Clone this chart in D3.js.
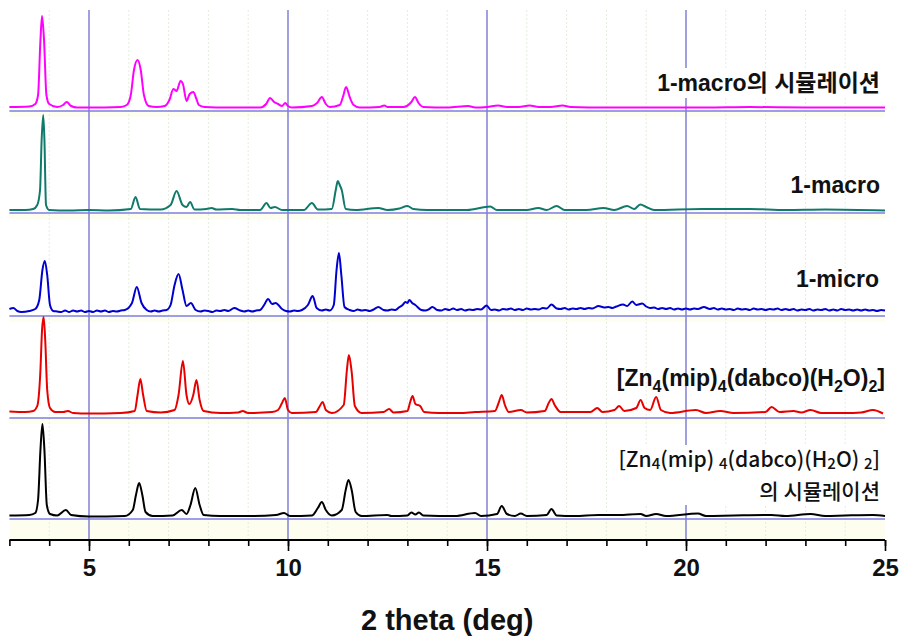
<!DOCTYPE html>
<html>
<head>
<meta charset="utf-8">
<script src="https://cdn.jsdelivr.net/npm/d3@7"></script>
<style>
  html, body { margin: 0; padding: 0; background: #fff; }
  svg { display: block; }
</style>
</head>
<body>
<svg id="chart" width="901" height="644"></svg>
<script>
// ---------------- DATA ----------------
const seriesNames = ["1-macro의 시뮬레이션", "1-macro", "1-micro", "[Zn4(mip)4(dabco)(H2O)2]", "[Zn4(mip)4(dabco)(H2O)2] 의 시뮬레이션"];
const seriesColors = ["#ff00ff", "#0f7a6a", "#0000d0", "#e80000", "#000000"];
// vertical stacking offsets (a.u.)
const seriesOffsets = [429, 327, 224, 122, 21];

const xDomain = [3, 25];
const majorTicks = [5, 10, 15, 20, 25];
const minorTicks = [3,4,5,6,7,8,9,10,11,12,13,14,15,16,17,18,19,20,21,22,23,24,25];
const xLabel = "2 theta (deg)";

// intensities (a.u.): [2theta, intensity]
const simMacro = [
 [3.0,4],[3.5,4.5],[3.65,7],[3.72,16],[3.78,71],[3.82,95],[3.87,71],[3.93,16],[4.0,7],[4.2,4],[4.35,6],[4.44,9],[4.55,5],[4.7,3.5],
 [5.0,3.5],[5.8,4],[5.95,6],[6.05,16],[6.13,41],[6.22,51],[6.3,41],[6.38,16],[6.5,5],[6.7,4],[6.9,5],[7.02,11],[7.12,22],[7.2,20],
 [7.3,30],[7.36,27],[7.45,10],[7.53,17],[7.62,19],[7.7,12],[7.76,6],[7.9,4],[8.5,3.5],[9.3,3.5],[9.45,7],[9.55,13],[9.65,9],[9.75,7],
 [9.85,5],[9.93,8],[10.0,5],[10.1,3.5],[10.6,5],[10.73,8],[10.85,14],[10.95,7],[11.05,4],[11.3,6],[11.38,14],[11.46,24],[11.55,14],
 [11.65,6],[11.8,3.5],[12.3,4],[12.42,5.5],[12.5,4],[12.9,4],[13.1,9],[13.19,14],[13.28,8],[13.4,4],[14.0,3.5],[14.53,5],[14.7,3.5],
 [15.0,4],[15.28,5.5],[15.5,4],[15.8,4],[16.07,5.5],[16.3,4],[16.6,4],[16.9,5.5],[17.1,4],[18.0,3.5],[19.0,3.5],[20.5,3.5],[21.6,4],
 [23.0,3.5],[25.0,3.5]
];
const macro = [
 [3.0,3],[3.4,3],[3.6,4],[3.7,8],[3.77,23],[3.81,73],[3.85,98],[3.88,73],[3.92,8],[4.0,3],[4.5,2.5],[5.0,3],[5.5,2.5],[6.05,4],[6.17,16],
 [6.28,4],[6.8,3.5],[7.05,8],[7.2,22],[7.35,8],[7.45,6],[7.54,11],[7.65,3.5],[7.95,4],[8.08,5],[8.2,3.5],[8.6,4],[8.8,3],[9.3,3],
 [9.46,10],[9.56,5],[9.67,6],[9.85,3],[10.4,3],[10.6,10],[10.75,3.5],[11.1,4],[11.2,23],[11.25,32],[11.3,28],[11.35,23],[11.45,4],
 [11.7,3],[12.27,5],[12.5,3],[12.8,4.5],[13.0,7],[13.15,4],[13.5,3],[14.5,3],[15.08,6.5],[15.25,3],[16.0,3],[16.29,5],[16.5,3],
 [16.75,7],[16.95,3],[17.5,3],[17.93,5],[18.2,3],[18.52,7],[18.7,4],[18.85,8.5],[19.0,6],[19.2,3],[20.4,4],[21.6,4],[22.5,3],
 [23.5,3.5],[25.0,2.5]
];
const micro = [
 [3.0,7],[3.1,8],[3.2,5],[3.3,4],[3.5,5],[3.65,7],[3.75,16],[3.83,46],[3.89,55],[3.95,41],[4.02,11],[4.1,5],
 [4.2,4.5],[4.3,4],[4.4,5.5],[4.5,4],[4.6,5.5],[4.7,4.5],[4.8,5.5],[4.9,4],[5.0,5],[5.1,4],[5.2,5.5],[5.3,4.5],[5.4,5.5],[5.5,4],
 [5.6,5],[5.7,4.5],[5.8,5.5],[5.9,6],[6.08,13],[6.2,29],[6.32,13],[6.45,6],[6.55,4.5],[6.65,5.5],[6.75,4.5],[6.85,5.5],[6.95,6],
 [7.05,11],[7.15,31],[7.25,42],[7.35,26],[7.45,10],[7.56,13],[7.68,6],[7.8,4.5],[7.9,5.5],[8.0,5],[8.1,4],[8.2,5.5],[8.3,5],
 [8.4,6],[8.5,5],[8.65,8],[8.8,5.5],[8.9,4.5],[9.0,5.5],[9.1,4.5],[9.2,5.5],[9.3,6],[9.4,11],[9.5,17],[9.6,12],[9.69,13],[9.85,7],
 [9.95,5],[10.05,4.5],[10.15,5.5],[10.25,5],[10.35,6],[10.5,11],[10.62,20],[10.72,8],[10.85,5.5],[10.95,6.5],[11.05,5.5],
 [11.15,11],[11.22,46],[11.28,63],[11.34,41],[11.42,9],[11.55,6],[11.65,5],[11.75,6.5],[11.85,5.5],[11.95,6],[12.05,5],[12.15,6.5],
 [12.27,9],[12.4,6],[12.5,5.5],[12.6,6.5],[12.7,6],[12.8,9],[12.88,11],[12.95,14],[13.0,13],[13.05,16],[13.12,13],[13.2,11],
 [13.35,6],[13.45,5.5],[13.55,7],[13.63,9],[13.75,6],[13.85,5.5],[13.95,7],[14.05,6],[14.15,7.5],[14.25,6],[14.35,7],[14.45,5.5],
 [14.55,6.5],[14.65,6],[14.75,7],[14.85,6.5],[14.99,10.5],[15.1,6],[15.2,6.5],[15.3,5.5],[15.4,7],[15.5,6.5],[15.6,7.5],[15.7,6],
 [15.8,7],[15.9,6],[16.0,7.5],[16.1,6.5],[16.2,7],[16.3,6.5],[16.4,8],[16.5,7.5],[16.62,11.5],[16.75,7.5],[16.85,7],[16.95,8],
 [17.05,6.5],[17.15,7.5],[17.25,7],[17.35,8],[17.45,7],[17.55,8],[17.65,7.5],[17.8,10],[17.95,8.5],[18.05,9],[18.15,8],[18.25,9.5],
 [18.42,11.5],[18.52,10],[18.65,14.5],[18.75,11],[18.9,12.5],[19.0,9.5],[19.1,8],[19.2,8.5],[19.3,7],[19.4,8],[19.5,7],[19.6,8],
 [19.7,6.5],[19.8,7.5],[19.9,6.5],[20.0,7.5],[20.1,6.5],[20.2,7.5],[20.3,7],[20.45,9],[20.6,7],[20.7,8],[20.8,6.5],[20.9,7.5],
 [21.0,6.5],[21.1,7],[21.2,6],[21.3,7.5],[21.4,6.5],[21.5,7],[21.6,6],[21.7,7.5],[21.8,6.5],[21.9,7],[22.0,6],[22.1,7],[22.2,6.5],
 [22.3,7.5],[22.4,6],[22.5,7],[22.6,6],[22.7,7],[22.8,5.5],[22.9,6.5],[23.0,6],[23.1,7],[23.2,5.5],[23.3,6.5],[23.4,6],[23.5,7],
 [23.6,5.5],[23.7,6.5],[23.8,5.5],[23.9,7],[24.0,6],[24.1,6.5],[24.2,5.5],[24.3,6.5],[24.4,5.5],[24.5,6.5],[24.6,5.5],[24.7,6],
 [24.8,5],[24.9,6],[25.0,5.5]
];
const zincMof = [
 [3.0,6.5],[3.4,6],[3.6,7],[3.7,12],[3.78,48],[3.82,88],[3.86,101],[3.9,78],[3.95,28],[4.02,10],[4.15,6],[4.35,6],[4.47,7],[4.6,5],
 [5.0,4.5],[5.8,5],[6.15,7],[6.22,23],[6.29,39],[6.36,23],[6.45,7],[6.8,5.5],[7.15,8],[7.25,23],[7.36,57],[7.45,23],[7.52,14],
 [7.62,23],[7.7,38],[7.78,18],[7.88,7],[8.3,5],[8.75,5.5],[8.86,7],[9.0,5],[9.6,6],[9.75,8],[9.85,15],[9.92,20],[10.0,8],[10.1,5],
 [10.7,6],[10.8,12],[10.87,16],[10.95,8],[11.1,5],[11.4,13],[11.48,48],[11.53,63],[11.6,46],[11.68,12],[11.85,5],[12.4,6],
 [12.54,9],[12.65,5.5],[13.0,7],[13.07,16],[13.13,22],[13.2,14],[13.32,12],[13.42,6],[13.8,5],[14.3,5],[14.7,6],[15.2,7],[15.3,16],
 [15.37,23],[15.45,13],[15.55,6],[15.85,8],[16.0,5.5],[16.45,7],[16.55,15],[16.62,19],[16.7,13],[16.85,6],[17.04,6],[17.6,6],
 [17.77,10],[17.9,6],[18.2,8],[18.32,12],[18.45,7],[18.75,10],[18.86,18],[18.96,10],[19.1,8],[19.25,21],[19.37,8],[19.6,5],
 [20.25,8],[20.5,5],[20.86,7],[21.2,5],[22.0,6],[22.15,11],[22.35,6],[22.7,7],[22.9,5.5],[23.13,8],[23.4,5],[24.0,5],[24.4,5.5],
 [24.7,8],[24.95,4.5]
];
const simZincMof = [
 [3.0,3.5],[3.5,4],[3.65,6],[3.72,19],[3.78,69],[3.83,95],[3.88,69],[3.94,14],[4.02,5],[4.2,3.5],[4.42,9],[4.55,4],[5.0,2.5],
 [5.9,3],[6.1,9],[6.18,24],[6.26,36],[6.34,24],[6.42,7],[6.6,3],[7.1,3.5],[7.33,9],[7.45,5],[7.55,14],[7.67,31],[7.78,14],[7.88,4],
 [8.3,3],[9.0,3],[9.7,4],[9.9,6],[10.05,3],[10.6,3.5],[10.75,11],[10.85,17],[10.95,9],[11.1,3.5],[11.35,9],[11.45,29],[11.52,39],
 [11.6,29],[11.7,7],[11.85,3],[12.5,4],[12.6,3],[13.0,3.5],[13.1,6.5],[13.2,4.5],[13.29,6.5],[13.4,3.5],[14.2,3],[14.7,6],[14.85,3],
 [15.25,5],[15.37,13],[15.5,5],[15.7,3],[15.85,5.5],[16.0,3],[16.5,4],[16.62,10],[16.75,3.5],[17.2,3],[17.8,4],[18.3,4],[18.86,5],
 [19.0,3],[19.25,5],[19.5,3],[20.3,5.5],[20.5,3],[21.2,3.5],[22.15,4],[22.5,3],[23.13,5],[23.5,3],[24.0,3.5],[24.7,4],[25.0,3]
];
const seriesData = [simMacro, macro, micro, zincMof, simZincMof];

// ---------------- CHART ----------------
const svg = d3.select("#chart");
const plotLeft = 9.4, plotRight = 885, plotTop = 10, plotBottom = 540;

const x = d3.scaleLinear().domain(xDomain).range([plotLeft, plotRight]);
const y = d3.scaleLinear().domain([0, 530]).range([plotBottom, plotBottom - 530]);

const FONT = "'Liberation Sans', Arial, 'Noto Sans CJK KR', sans-serif";

// faint pale bands under each baseline
seriesOffsets.forEach((o, i) => {
  const yb = y(o);
  const h = i === seriesOffsets.length - 1 ? plotBottom - yb : 6;
  svg.append("rect").attr("x", plotLeft).attr("y", yb).attr("width", plotRight - plotLeft)
    .attr("height", h).attr("fill", "#fdfdf0");
});

// minor grid (faint)
svg.append("g").selectAll("line")
  .data(minorTicks.filter(t => t % 5 !== 0 && t > xDomain[0]))
  .join("line")
  .attr("x1", d => x(d)).attr("x2", d => x(d))
  .attr("y1", plotTop).attr("y2", plotBottom)
  .attr("stroke", "#e4eedd").attr("stroke-width", 1).attr("stroke-dasharray", "2,2");

// major vertical grid
svg.append("g").selectAll("line")
  .data(majorTicks.filter(t => t < xDomain[1]))
  .join("line")
  .attr("x1", d => x(d)).attr("x2", d => x(d))
  .attr("y1", plotTop).attr("y2", plotBottom)
  .attr("stroke", "#6e6ed2").attr("stroke-width", 1.3);

// baselines
svg.append("g").selectAll("line")
  .data(seriesOffsets)
  .join("line")
  .attr("x1", plotLeft).attr("x2", plotRight)
  .attr("y1", d => y(d)).attr("y2", d => y(d))
  .attr("stroke", "#7e7ee0").attr("stroke-width", 1.5);

// traces
const line = d3.line().curve(d3.curveMonotoneX);
seriesData.forEach((data, i) => {
  const off = seriesOffsets[i];
  line.x(d => x(d[0])).y(d => y(off + d[1]));
  svg.append("path").datum(data)
    .attr("d", line)
    .attr("fill", "none")
    .attr("stroke", seriesColors[i])
    .attr("stroke-width", 2)
    .attr("stroke-linejoin", "round");
});

// labels
const labelG = svg.append("g").attr("font-family", FONT).attr("text-anchor", "end");
function addFormula(textSel, parts, subSize, subDy) {
  let shifted = false;
  parts.forEach(p => {
    const ts = textSel.append("tspan").text(p.t);
    if (p.sub) {
      ts.attr("font-size", subSize).attr("dy", shifted ? 0 : subDy);
      shifted = true;
    } else if (shifted) {
      ts.attr("dy", -subDy);
      shifted = false;
    }
  });
}
// 0: magenta label with white background
{
  const t = labelG.append("text").attr("x", 880).attr("y", y(seriesOffsets[0]) - 20)
    .attr("font-size", 23).attr("font-weight", "bold").attr("fill", "#111").text(seriesNames[0]);
  const bb = t.node().getBBox();
  labelG.insert("rect", "text").attr("x", bb.x - 4).attr("y", bb.y - 2)
    .attr("width", bb.width + 8).attr("height", bb.height + 4).attr("fill", "#fff");
}
labelG.append("text").attr("x", 880).attr("y", y(seriesOffsets[1]) - 20)
  .attr("font-size", 23).attr("font-weight", "bold").attr("fill", "#111").text(seriesNames[1]);
labelG.append("text").attr("x", 879).attr("y", y(seriesOffsets[2]) - 29)
  .attr("font-size", 23).attr("font-weight", "bold").attr("fill", "#111").text(seriesNames[2]);
{
  const t = labelG.append("text").attr("x", 885).attr("y", y(seriesOffsets[3]) - 32)
    .attr("font-size", 23).attr("font-weight", "bold").attr("fill", "#111");
  addFormula(t, [{t:"[Zn"},{t:"4",sub:true},{t:"(mip)"},{t:"4",sub:true},{t:"(dabco)(H"},{t:"2",sub:true},{t:"O)"},{t:"2",sub:true},{t:"]"}], 16, 6);
}
{
  const g5 = labelG.append("g");
  const t1 = g5.append("text").attr("x", 880).attr("y", y(seriesOffsets[4]) - 52)
    .attr("font-size", 21).attr("font-weight", 500).attr("fill", "#111")
    .attr("font-family", "'Noto Sans CJK KR', sans-serif");
  addFormula(t1, [{t:"[Zn"},{t:"4",sub:true},{t:"(mip) "},{t:"4",sub:true},{t:"(dabco)(H"},{t:"2",sub:true},{t:"O) "},{t:"2",sub:true},{t:"]"}], 15, 2);
  const t2 = g5.append("text").attr("x", 880).attr("y", y(seriesOffsets[4]) - 20)
    .attr("font-size", 21).attr("font-weight", 500).attr("fill", "#111")
    .attr("font-family", "'Noto Sans CJK KR', sans-serif")
    .text("의 시뮬레이션");
  const b1 = t1.node().getBBox(), b2 = t2.node().getBBox();
  const bx = Math.min(b1.x, b2.x) - 4, by = b1.y + 2;
  g5.insert("rect", "text").attr("x", bx).attr("y", by)
    .attr("width", 886 - bx).attr("height", b2.y + b2.height - by).attr("fill", "#fff");
}

// x axis
const minorAxis = d3.axisBottom(x).tickValues(minorTicks).tickSize(6).tickFormat("");
const majorAxis = d3.axisBottom(x).tickValues(majorTicks).tickSize(11).tickPadding(8);
const gMinor = svg.append("g").attr("transform", `translate(0,${plotBottom})`).call(minorAxis);
gMinor.select(".domain").attr("stroke", "#000").attr("stroke-width", 2).attr("d", `M${plotLeft},0H${plotRight}`);
gMinor.selectAll(".tick line").attr("stroke", "#000").attr("stroke-width", 1.6);
gMinor.selectAll(".tick text").remove();
const gMajor = svg.append("g").attr("transform", `translate(0,${plotBottom})`).call(majorAxis);
gMajor.select(".domain").remove();
gMajor.selectAll(".tick line").attr("stroke", "#000").attr("stroke-width", 1.6);
gMajor.selectAll(".tick text").attr("font-family", FONT).attr("font-size", 24)
  .attr("font-weight", "bold").attr("fill", "#111");

svg.append("text").attr("x", (plotLeft + plotRight) / 2).attr("y", 630)
  .attr("text-anchor", "middle").attr("font-family", FONT).attr("font-size", 29)
  .attr("font-weight", "bold").attr("fill", "#111").text(xLabel);
</script>
</body>
</html>
